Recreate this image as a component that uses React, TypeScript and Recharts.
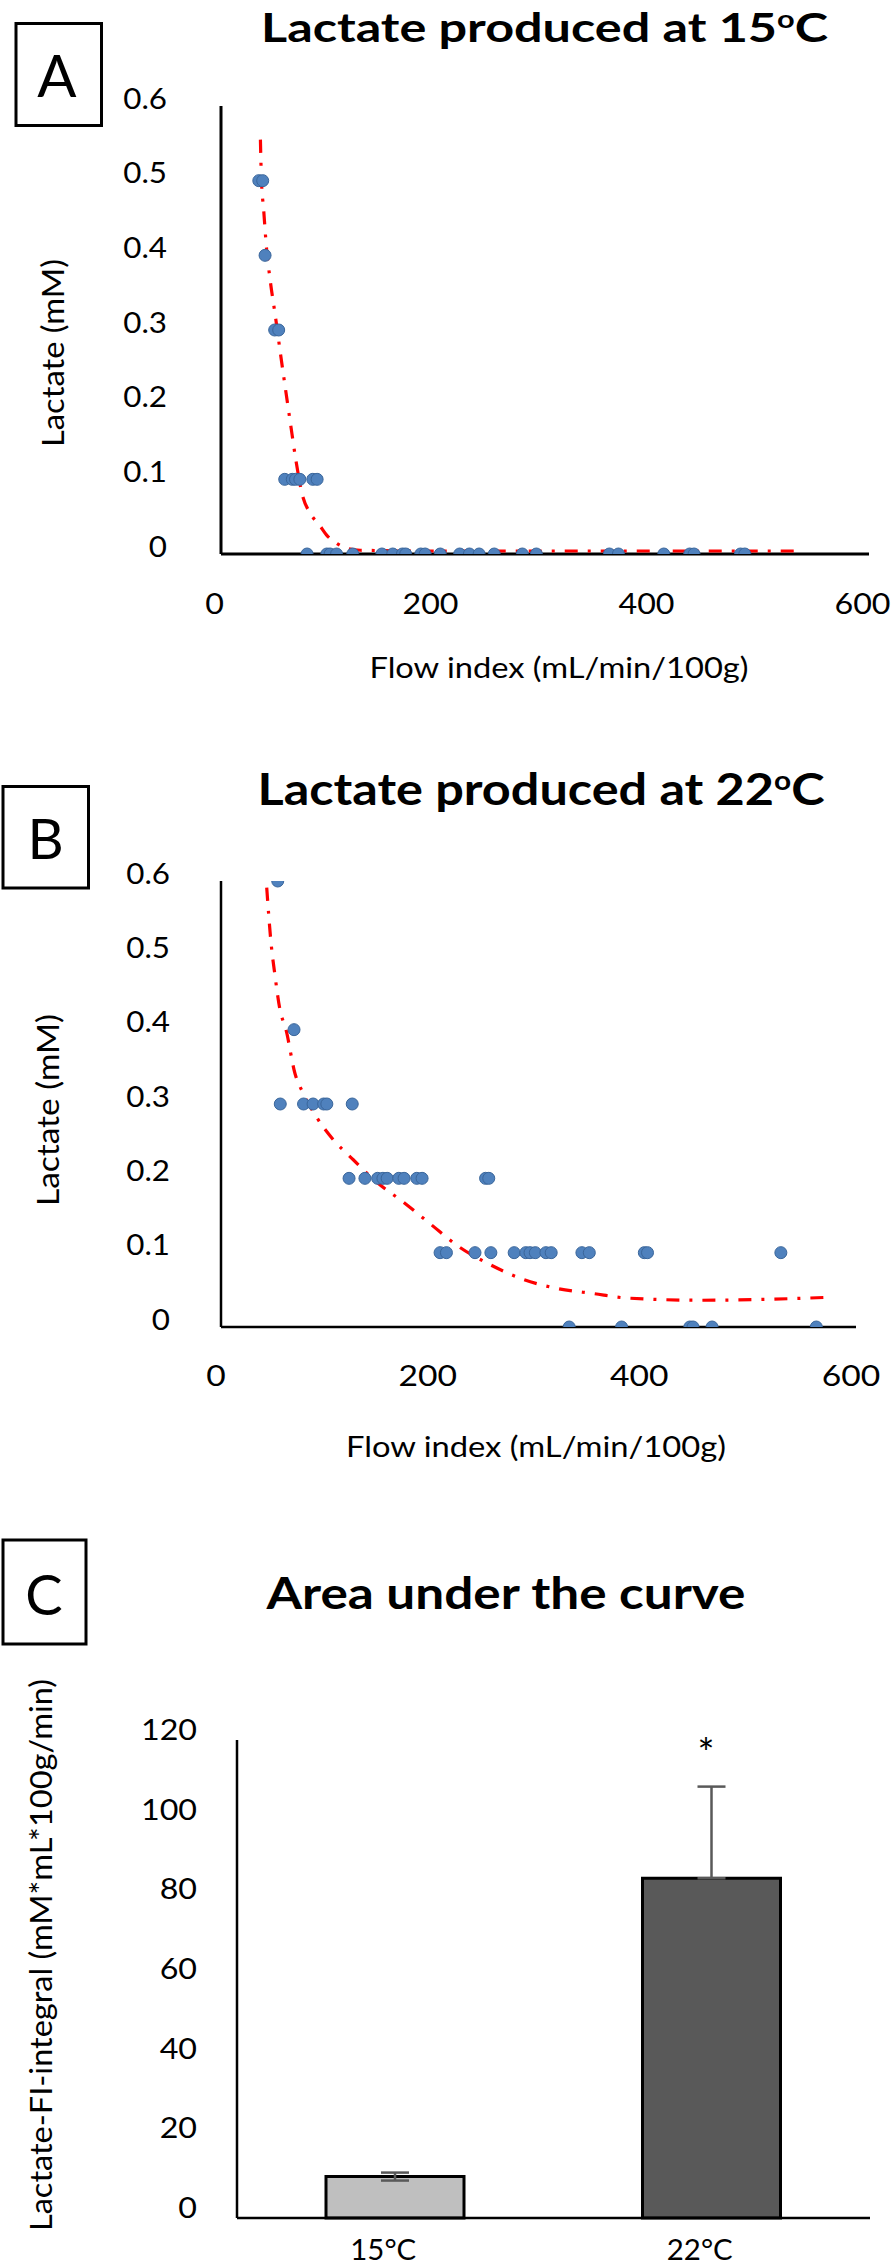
import React from 'react';
import { ScatterChart, Scatter, XAxis, YAxis, BarChart, Bar, Cell, ErrorBar } from 'recharts';

const FONT = "Lato, 'Open Sans', 'DejaVu Sans', sans-serif";

// ---------- shared ticks ----------
const flowTicks = [0, 200, 400, 600];
const lactateTicks = [0, 0.1, 0.2, 0.3, 0.4, 0.5, 0.6];

// ---------- Panel A : 15 C ----------
const flowA = [35, 38.6, 40.8, 49.7, 53.4, 59, 66, 69, 73, 85, 89,
  79.7, 98, 101, 107, 122, 149, 159, 168, 171, 185, 189, 203, 221, 230, 239, 253, 279, 292, 359.6, 368, 410, 434, 438, 481, 485];
const lactateA = [0.5, 0.5, 0.4, 0.3, 0.3, 0.1, 0.1, 0.1, 0.1, 0.1, 0.1,
  0, 0, 0, 0, 0, 0, 0, 0, 0, 0, 0, 0, 0, 0, 0, 0, 0, 0, 0, 0, 0, 0, 0, 0, 0];
const trendFlowA = [36.5, 37.4, 39.5, 42, 45.7, 50.4, 55, 59.6, 64.3, 69.2, 75, 82.8, 91, 98, 107.5, 116.7, 129, 200, 300, 400, 534.5];
const trendLactateA = [0.555, 0.503, 0.461, 0.412, 0.365, 0.318, 0.269, 0.222, 0.175, 0.127, 0.081, 0.054, 0.039, 0.025, 0.014, 0.0076, 0.005, 0.004, 0.004, 0.004, 0.004];

// ---------- Panel B : 22 C ----------
const flowB = [53.6, 69, 56, 78, 87, 97, 100, 124,
  121, 136, 148, 153, 157, 168, 173, 185, 190, 250, 253,
  207, 213, 240, 255, 277, 288, 292, 297, 307, 312, 341, 348, 400, 403, 529,
  329, 378.5, 443, 446, 464, 562.5];
const lactateB = [0.6, 0.4, 0.3, 0.3, 0.3, 0.3, 0.3, 0.3,
  0.2, 0.2, 0.2, 0.2, 0.2, 0.2, 0.2, 0.2, 0.2, 0.2, 0.2,
  0.1, 0.1, 0.1, 0.1, 0.1, 0.1, 0.1, 0.1, 0.1, 0.1, 0.1, 0.1, 0.1, 0.1, 0.1,
  0, 0, 0, 0, 0, 0];
const trendFlowB = [43.2, 47.2, 51, 55.7, 61.4, 69.9, 77.8, 90.4, 106.1, 125, 147, 172.3, 197.5, 225.8, 254.2, 285.7, 317.2, 351.8, 383.4, 452.6, 509.3, 575.4];
const trendLactateB = [0.591, 0.518, 0.473, 0.427, 0.4, 0.341, 0.314, 0.282, 0.252, 0.225, 0.195, 0.168, 0.139, 0.107, 0.084, 0.064, 0.052, 0.045, 0.039, 0.036, 0.037, 0.04];

// ---------- Panel C : AUC ----------
const aucCategories = ['15°C', '22°C'];
const aucValues = [10.4, 85.3];
const aucErrors = [[1, 1], [0, 23]];
const aucTicks = [0, 20, 40, 60, 80, 100, 120];
const aucColors = ['#BFBFBF', '#595959'];

const zip = (xs: number[], ys: number[]) => xs.map((x, i) => ({ x, y: ys[i] }));
const ptsA = zip(flowA, lactateA);
const lineA = zip(trendFlowA, trendLactateA);
const ptsB = zip(flowB, lactateB);
const lineB = zip(trendFlowB, trendLactateB);
const aucData = aucCategories.map((name, i) => ({ name, value: aucValues[i], err: aucErrors[i] }));

type TickOpts = { anchor: 'end' | 'middle'; fixedX?: number; fixedY?: number; dx?: number; dy?: number; size: number; sx: number };
function makeTick(o: TickOpts) {
  return (props: any) => {
    const x = o.fixedX !== undefined ? o.fixedX : props.x + (o.dx || 0);
    const y = o.fixedY !== undefined ? o.fixedY : props.y + (o.dy || 0);
    return (
      <g transform={`translate(${x},${y}) scale(${o.sx},1)`}>
        <text x={0} y={0} textAnchor={o.anchor} dominantBaseline="central" fontSize={o.size} fontFamily={FONT} fill="#000">
          {String(props.payload.value)}
        </text>
      </g>
    );
  };
}

const Dot = (props: any) => (
  <circle cx={props.cx} cy={props.cy} r={6} fill="#4F81BD" stroke="#3A669B" strokeWidth={1} />
);
const NoShape = () => <g />;

const trendLine = { stroke: '#FF0000', strokeWidth: 3.2, strokeDasharray: '13 10 3 10' };

function LactateChart(props: {
  pts: any[]; line: any[]; height: number;
  margin: any; yTick: any; xTick: any; axisW: number;
}) {
  return (
    <ScatterChart width={894} height={props.height} margin={props.margin}>
      <XAxis type="number" dataKey="x" domain={[0, 600]} ticks={flowTicks} interval={0} tickLine={false}
        axisLine={{ stroke: '#000', strokeWidth: props.axisW }} height={40} tick={props.xTick} allowDataOverflow />
      <YAxis type="number" dataKey="y" domain={[0, 0.6]} ticks={lactateTicks} interval={0} tickLine={false}
        axisLine={{ stroke: '#000', strokeWidth: props.axisW }} width={60} tick={props.yTick} allowDataOverflow />
      <Scatter data={props.line} line={trendLine} lineJointType="monotoneX" shape={NoShape} isAnimationActive={false} />
      <Scatter data={props.pts} shape={Dot} isAnimationActive={false} />
    </ScatterChart>
  );
}

const T = (p: any) => <text fontFamily={FONT} fill="#000" {...p} />;

export default function App() {
  return (
    <div style={{ position: 'absolute', left: 0, top: 0, width: 894, height: 2266, background: '#fff', overflow: 'hidden' }}>
      <div style={{ position: 'absolute', left: 0, top: 0 }}>
        <LactateChart pts={ptsA} line={lineA} height={700}
          margin={{ top: 106, right: 25, bottom: 106, left: 161 }} axisW={3}
          yTick={makeTick({ anchor: 'end', fixedX: 167, dy: -8, size: 28, sx: 1.12 })}
          xTick={makeTick({ anchor: 'middle', fixedY: 603, dx: -6.5, size: 28, sx: 1.15 })} />
      </div>
      <div style={{ position: 'absolute', left: 0, top: 700 }}>
        <LactateChart pts={ptsB} line={lineB} height={770}
          margin={{ top: 181, right: 38, bottom: 103, left: 161 }} axisW={2.5}
          yTick={makeTick({ anchor: 'end', fixedX: 170, dy: -8, size: 28, sx: 1.12 })}
          xTick={makeTick({ anchor: 'middle', fixedY: 675.6, dx: -5, size: 28, sx: 1.2 })} />
      </div>
      <div style={{ position: 'absolute', left: 0, top: 1470 }}>
        <BarChart width={894} height={796} data={aucData} margin={{ top: 270, right: 24, bottom: 8, left: 177 }}>
          <XAxis dataKey="name" interval={0} tickLine={false} axisLine={{ stroke: '#000', strokeWidth: 2.5 }} height={40}
            tick={makeTick({ anchor: 'middle', fixedY: 779, dx: -12, size: 28, sx: 1.05 })} />
          <YAxis domain={[0, 120]} ticks={aucTicks} interval={0} tickLine={false} axisLine={{ stroke: '#000', strokeWidth: 2.5 }} width={60}
            tick={makeTick({ anchor: 'end', fixedX: 197, dy: -11, size: 28, sx: 1.15 })} />
          <Bar dataKey="value" barSize={138} stroke="#000" strokeWidth={3} isAnimationActive={false}>
            {aucData.map((d, i) => <Cell key={d.name} fill={aucColors[i]} />)}
            <ErrorBar dataKey="err" direction="y" width={14} stroke="#595959" strokeWidth={2.5} />
          </Bar>
        </BarChart>
      </div>

      <svg width={894} height={2266} style={{ position: 'absolute', left: 0, top: 0, pointerEvents: 'none' }}>
        {/* Panel A */}
        <rect x={16} y={23.5} width={85.5} height={102} fill="none" stroke="#000" strokeWidth={3} />
        <T x={57} y={74} fontSize={58} textAnchor="middle" dominantBaseline="central">A</T>
        <T x={544.5} y={42} fontSize={41} fontWeight={700} textAnchor="middle" textLength={567} lengthAdjust="spacingAndGlyphs">
          Lactate produced at 15<tspan fontSize={25} dy={-14}>o</tspan><tspan dy={14}>C</tspan>
        </T>
        <T transform="translate(52,353) rotate(-90)" fontSize={30} textAnchor="middle" dominantBaseline="central" textLength={188} lengthAdjust="spacingAndGlyphs">Lactate (mM)</T>
        <T x={559} y={666} fontSize={29} textAnchor="middle" dominantBaseline="central" textLength={379} lengthAdjust="spacingAndGlyphs">Flow index (mL/min/100g)</T>

        {/* Panel B */}
        <rect x={3} y={786.5} width={85.5} height={101.5} fill="none" stroke="#000" strokeWidth={3} />
        <T x={45.5} y={837} fontSize={56} textAnchor="middle" dominantBaseline="central">B</T>
        <T x={541} y={805} fontSize={44} fontWeight={700} textAnchor="middle" textLength={567} lengthAdjust="spacingAndGlyphs">
          Lactate produced at 22<tspan fontSize={26} dy={-15}>o</tspan><tspan dy={15}>C</tspan>
        </T>
        <T transform="translate(47,1110) rotate(-90)" fontSize={30} textAnchor="middle" dominantBaseline="central" textLength={192} lengthAdjust="spacingAndGlyphs">Lactate (mM)</T>
        <T x={536} y={1445} fontSize={29} textAnchor="middle" dominantBaseline="central" textLength={380} lengthAdjust="spacingAndGlyphs">Flow index (mL/min/100g)</T>

        {/* Panel C */}
        <rect x={3} y={1540} width={83} height={104} fill="none" stroke="#000" strokeWidth={3} />
        <T x={44} y={1593} fontSize={56} textAnchor="middle" dominantBaseline="central">C</T>
        <T x={506} y={1609} fontSize={44} fontWeight={700} textAnchor="middle" textLength={479} lengthAdjust="spacingAndGlyphs">Area under the curve</T>
        <T transform="translate(40,1955) rotate(-90)" fontSize={30} textAnchor="middle" dominantBaseline="central" textLength={552} lengthAdjust="spacingAndGlyphs">Lactate-FI-integral (mM*mL*100g/min)</T>
        <T x={706} y={1768} fontSize={40} textAnchor="middle">*</T>
      </svg>
    </div>
  );
}
